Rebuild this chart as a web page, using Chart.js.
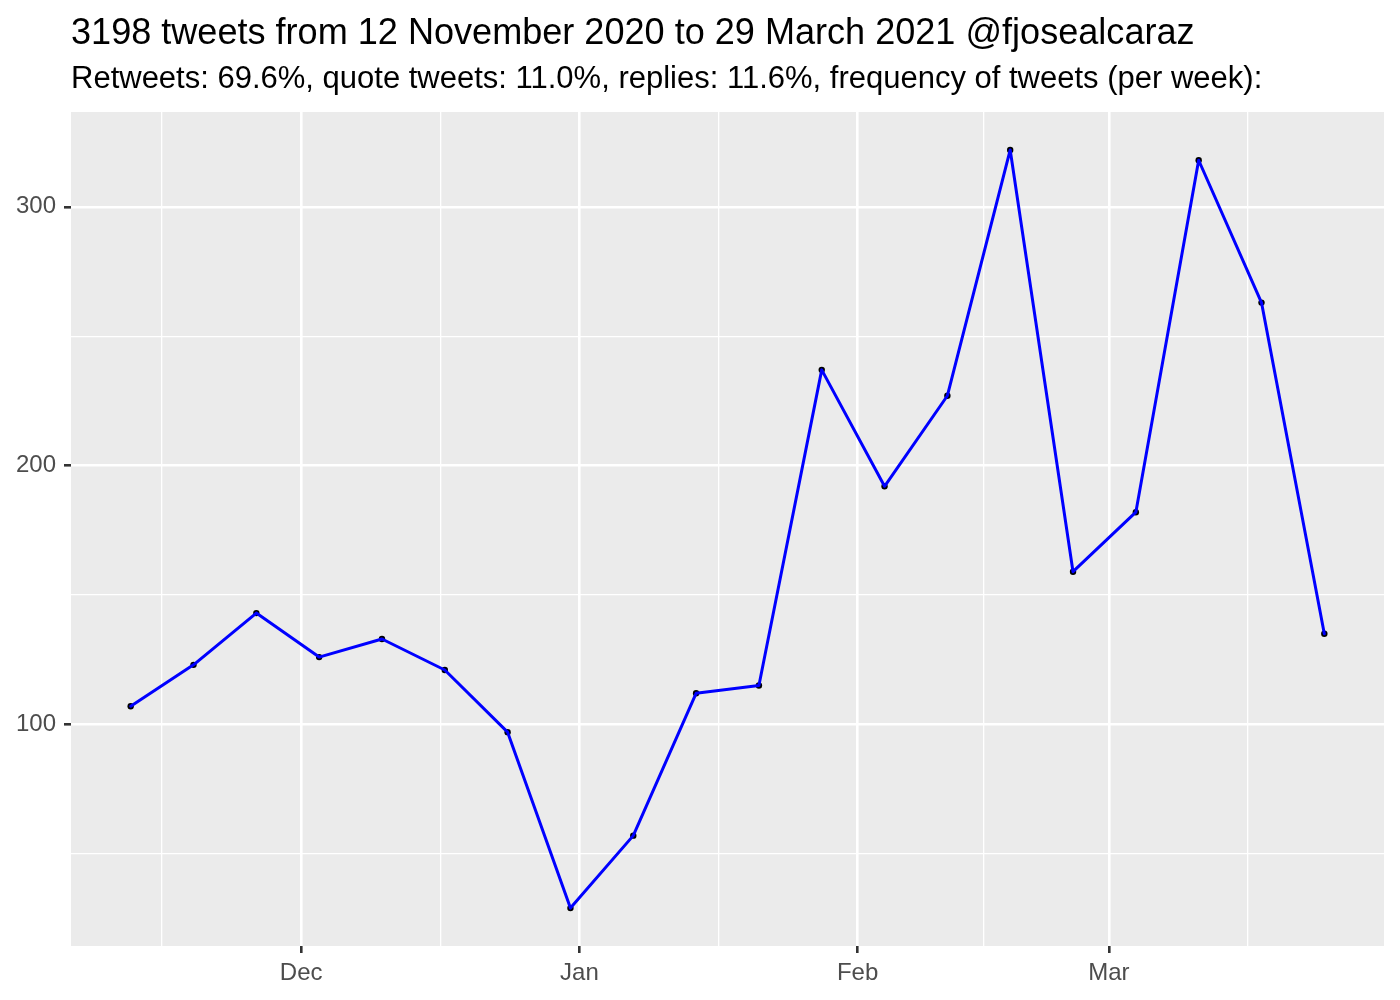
<!DOCTYPE html>
<html>
<head>
<meta charset="utf-8">
<script src="https://cdn.jsdelivr.net/npm/chart.js@4.4.1/dist/chart.umd.min.js"></script>
<style>
  html, body { margin: 0; padding: 0; background: #fff; }
  #wrap { width: 1400px; height: 1000px; }
</style>
</head>
<body>
<div id="wrap"><canvas id="chart" width="1400" height="1000"></canvas></div>
<script>
// weekly tweet counts
const weekStarts = ['2020-11-12', '2020-11-19', '2020-11-26', '2020-12-03', '2020-12-10',
    '2020-12-17', '2020-12-24', '2020-12-31', '2021-01-07', '2021-01-14', '2021-01-21',
    '2021-01-28', '2021-02-04', '2021-02-11', '2021-02-18', '2021-02-25', '2021-03-04',
    '2021-03-11', '2021-03-18', '2021-03-25'];
const tweetsPerWeek = [107, 123, 143, 126, 133, 121, 97, 29, 57, 112, 115, 237, 192, 227, 322, 159, 182, 318, 263, 135];

const monthBreaks = ['2020-12-01', '2021-01-01', '2021-02-01', '2021-03-01'];
const monthLabels = ['Dec', 'Jan', 'Feb', 'Mar'];
const minorBreaks = ['2020-11-15T12:00', '2020-12-16T12:00', '2021-01-16T12:00', '2021-02-15', '2021-03-16T12:00'];
const yBreaks = [50, 100, 150, 200, 250, 300];
const yLabels = [100, 200, 300];

const titleText = '3198 tweets from 12 November 2020 to 29 March 2021 @fjosealcaraz';
const subtitleText = 'Retweets: 69.6%, quote tweets: 11.0%, replies: 11.6%, frequency of tweets (per week):';

// days relative to 1 Dec 2020
const origin = Date.UTC(2020, 11, 1);
function toDay(s) {
    const d = new Date(s.length > 10 ? s + 'Z' : s + 'T00:00Z');
    return (d.getTime() - origin) / 86400000;
}

const points = weekStarts.map((w, i) => ({ x: toDay(w), y: tweetsPerWeek[i] }));
const majorX = monthBreaks.map(toDay);
const minorX = minorBreaks.map(toDay);

const xs = points.map(p => p.x);
const xPad = (Math.max(...xs) - Math.min(...xs)) * 0.05;
const yPad = (Math.max(...tweetsPerWeek) - Math.min(...tweetsPerWeek)) * 0.05;

const FONT = '"Liberation Sans", Arial, Helvetica, sans-serif';

const panelBg = {
    id: 'panelBg',
    beforeDraw(chart) {
        const { ctx, chartArea: a } = chart;
        ctx.save();
        ctx.fillStyle = '#EBEBEB';
        ctx.fillRect(a.left, a.top, a.right - a.left, a.bottom - a.top);
        ctx.restore();
    },
    afterDraw(chart) {
        const ctx = chart.ctx;
        ctx.save();
        ctx.fillStyle = '#000';
        ctx.textAlign = 'left';
        ctx.textBaseline = 'alphabetic';
        ctx.font = '36.1px ' + FONT;
        ctx.fillText(titleText, 71, 44);
        ctx.font = '31px ' + FONT;
        ctx.fillText(subtitleText, 71, 88);
        ctx.restore();
    }
};

new Chart(document.getElementById('chart').getContext('2d'), {
    type: 'line',
    data: {
        datasets: [
            {
                label: 'tweets',
                data: points,
                borderColor: '#0000FF',
                borderWidth: 3,
                borderJoinStyle: 'round',
                borderCapStyle: 'round',
                pointRadius: 0,
                tension: 0,
                order: 1
            },
            {
                type: 'scatter',
                label: 'points',
                data: points,
                backgroundColor: '#000',
                borderColor: '#000',
                pointRadius: 3.2,
                borderWidth: 0,
                order: 2
            }
        ]
    },
    options: {
        responsive: false,
        animation: false,
        layout: { padding: { top: 112, right: 16, left: 0, bottom: 0 } },
        plugins: { legend: { display: false }, tooltip: { enabled: false } },
        scales: {
            x: {
                type: 'linear',
                min: Math.min(...xs) - xPad,
                max: Math.max(...xs) + xPad,
                afterBuildTicks(axis) {
                    axis.ticks = majorX.concat(minorX).map(v => ({ value: v }));
                },
                afterFit(axis) { axis.height = 54; },
                border: { display: false },
                grid: {
                    color: '#FFFFFF',
                    lineWidth: c => majorX.includes(c.tick.value) ? 2.6 : 1.3,
                    tickColor: c => majorX.includes(c.tick.value) ? '#333333' : 'rgba(0,0,0,0)',
                    tickLength: 7,
                    drawTicks: true
                },
                ticks: {
                    autoSkip: false,
                    maxRotation: 0,
                    padding: 6,
                    color: '#4D4D4D',
                    font: { family: FONT, size: 24 },
                    callback: v => {
                        const i = majorX.indexOf(v);
                        return i >= 0 ? monthLabels[i] : '';
                    }
                }
            },
            y: {
                type: 'linear',
                min: Math.min(...tweetsPerWeek) - yPad,
                max: Math.max(...tweetsPerWeek) + yPad,
                afterBuildTicks(axis) {
                    axis.ticks = yBreaks.map(v => ({ value: v }));
                },
                afterFit(axis) { axis.width = 71; },
                border: { display: false },
                grid: {
                    color: '#FFFFFF',
                    lineWidth: c => yLabels.includes(c.tick.value) ? 2.6 : 1.3,
                    tickColor: c => yLabels.includes(c.tick.value) ? '#333333' : 'rgba(0,0,0,0)',
                    tickLength: 7,
                    drawTicks: true
                },
                ticks: {
                    autoSkip: false,
                    padding: 8,
                    color: '#4D4D4D',
                    font: { family: FONT, size: 24 },
                    callback: v => yLabels.includes(v) ? String(v) : ''
                }
            }
        }
    },
    plugins: [panelBg]
});
</script>
</body>
</html>
